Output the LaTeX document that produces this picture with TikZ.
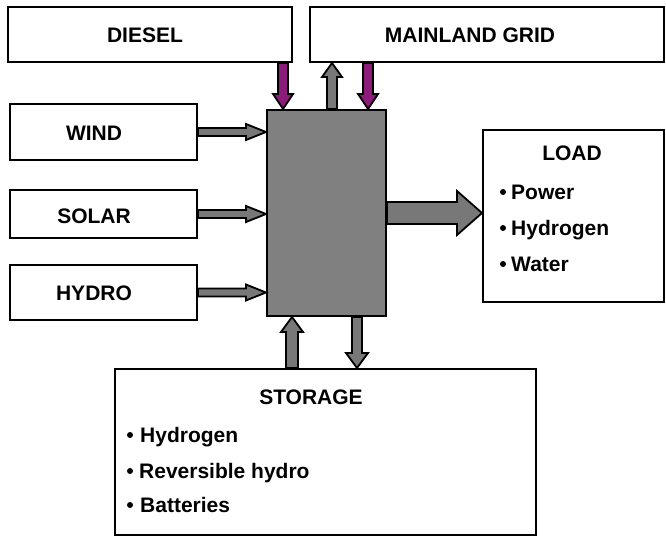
\documentclass[tikz,border=0pt]{standalone}
\usepackage{fontspec}
\setmainfont{Liberation Sans}
\usetikzlibrary{calc}
\definecolor{hubgray}{RGB}{128,128,128}
\definecolor{arrgray}{RGB}{120,120,120}
\definecolor{magarr}{RGB}{140,28,122}
\tikzset{
  box/.style={draw=black, line width=2pt, fill=white, inner sep=0pt},
  lbl/.style={font=\fontsize{21}{24}\selectfont\bfseries, inner sep=0pt},
  item/.style={font=\fontsize{21}{24}\selectfont\bfseries, inner sep=0pt, anchor=base west},
  arrline/.style={draw=black, line width=1.8pt, line join=miter},
  dot/.style={circle, fill=black, inner sep=0pt, minimum size=6pt}
}
% #1 start, #2 end, #3 shaft half width, #4 head half width, #5 head length, #6 fill
\newcommand{\blockarr}[6]{%
  \coordinate (bh) at ($(#2)!#5!(#1)$);
  \filldraw[arrline, fill=#6] ($(#1)!#3!90:(#2)$) -- ($(bh)!#3!90:(#2)$) -- ($(bh)!#4!90:(#2)$) -- (#2)
    -- ($(bh)!#4!-90:(#2)$) -- ($(bh)!#3!-90:(#2)$) -- ($(#1)!#3!-90:(#2)$) -- cycle;
}
\begin{document}
\begin{tikzpicture}[x=1pt,y=-1pt]
\useasboundingbox[fill=white] (0,0) rectangle (666,538);
% boxes
\node[box, minimum width=284pt, minimum height=55pt] (diesel) at (150,34.5) {};
\node[box, minimum width=354pt, minimum height=55pt] (grid) at (487,34.5) {};
\node[box, minimum width=187pt, minimum height=56pt] (wind) at (103.5,132) {};
\node[box, minimum width=187pt, minimum height=48pt] (solar) at (103.5,214) {};
\node[box, minimum width=187pt, minimum height=55pt] (hydro) at (103.5,292.5) {};
\node[box, fill=hubgray, minimum width=119pt, minimum height=206pt] (hub) at (326.5,213) {};
\node[box, minimum width=181pt, minimum height=172pt] (load) at (573.5,215.5) {};
\node[box, minimum width=421pt, minimum height=166pt] (storage) at (325.5,452) {};
% labels
\node[lbl] (dieseltxt) at (145,35) {DIESEL};
\node[lbl] (gridtxt) at (470,35) {MAINLAND GRID};
\node[lbl] (windtxt) at (94,133) {WIND};
\node[lbl] (solartxt) at (94,216) {SOLAR};
\node[lbl] (hydrotxt) at (94,293) {HYDRO};
\node[lbl] (loadtxt) at (572,153) {LOAD};
\node[lbl] (storagetxt) at (311,397) {STORAGE};
% load items
\node[item] (l1) at (511,199) {Power};
\node[item] (l2) at (511,235) {Hydrogen};
\node[item] (l3) at (511,271) {Water};
\node[dot] (l1d) at (503,192) {};
\node[dot] (l2d) at (503,228) {};
\node[dot] (l3d) at (503,264) {};
% storage items
\node[item] (s1) at (140,442) {Hydrogen};
\node[item] (s2) at (139,478) {Reversible hydro};
\node[item] (s3) at (140,512) {Batteries};
\node[dot] (s1d) at (130,435) {};
\node[dot] (s2d) at (130,471) {};
\node[dot] (s3d) at (130,505) {};
% arrow end points
\coordinate (wa) at (wind.east);
\coordinate (wb) at (hub.west |- wind.east);
\coordinate (sa) at (solar.east);
\coordinate (sb) at (hub.west |- solar.east);
\coordinate (ha) at (hydro.east);
\coordinate (hb) at (hub.west |- hydro.east);
\coordinate (xd) at (283,0);
\coordinate (xu) at (332,0);
\coordinate (xg) at (368,0);
\coordinate (da) at (xd |- diesel.south);
\coordinate (db) at (xd |- hub.north);
\coordinate (ua) at (xu |- hub.north);
\coordinate (ub) at (xu |- grid.south);
\coordinate (ga) at (xg |- grid.south);
\coordinate (gb) at (xg |- hub.north);
\coordinate (la) at (hub.east);
\coordinate (lb) at (load.west |- hub.east);
\coordinate (xsu) at (292,0);
\coordinate (xsd) at (357,0);
\coordinate (sua) at (xsu |- storage.north);
\coordinate (sub) at (xsu |- hub.south);
\coordinate (sda) at (xsd |- hub.south);
\coordinate (sdb) at (xsd |- storage.north);
% arrows
\blockarr{wa}{wb}{4pt}{8pt}{20pt}{arrgray}
\blockarr{sa}{sb}{4pt}{8pt}{20pt}{arrgray}
\blockarr{ha}{hb}{4pt}{8pt}{20pt}{arrgray}
\blockarr{da}{db}{5pt}{10pt}{15pt}{magarr}
\blockarr{ua}{ub}{5pt}{10pt}{14pt}{arrgray}
\blockarr{ga}{gb}{5pt}{10pt}{15pt}{magarr}
\blockarr{la}{lb}{11pt}{22pt}{25pt}{arrgray}
\blockarr{sua}{sub}{6pt}{11pt}{15pt}{arrgray}
\blockarr{sda}{sdb}{5pt}{11pt}{15pt}{arrgray}
\end{tikzpicture}
\end{document}
